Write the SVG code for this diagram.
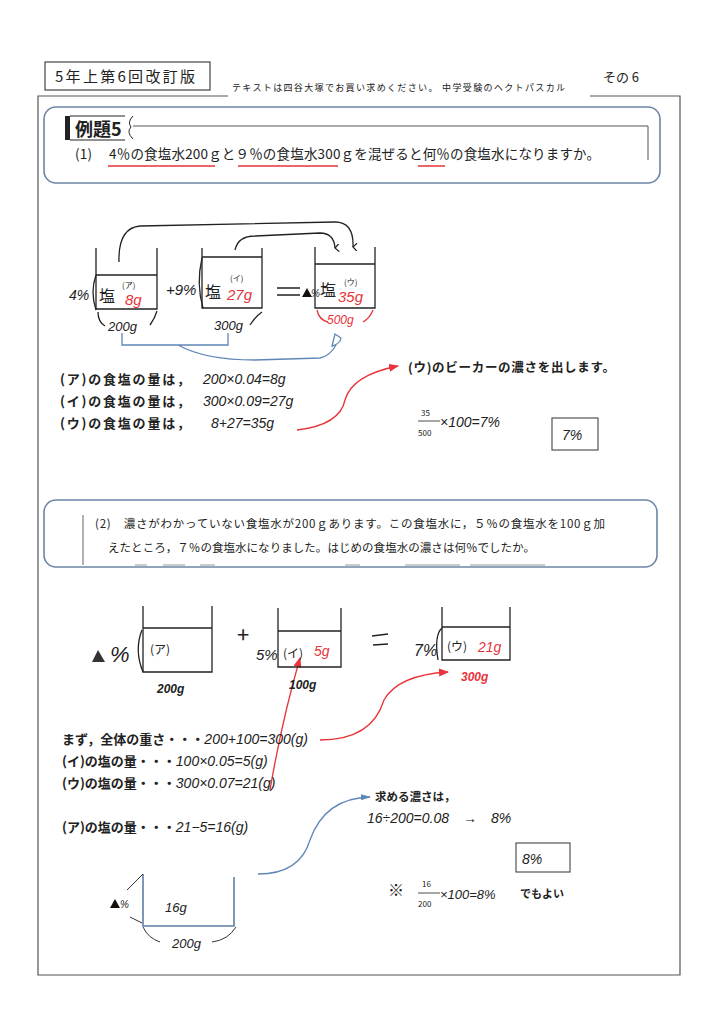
<svg xmlns="http://www.w3.org/2000/svg" width="724" height="1024" viewBox="0 0 724 1024">
<defs>
<style>
.jp{font-family:"Noto Sans CJK JP","Noto Sans",sans-serif;fill:#222}
.hw{font-family:"Liberation Sans","Noto Sans CJK JP",sans-serif;font-style:italic;fill:#222}
.red{fill:#e8333a}
.ln{fill:none;stroke:#222;stroke-width:1.3}
.rb{fill:none;stroke:#6c85a6;stroke-width:1.6}
.rl{fill:none;stroke:#e8333a;stroke-width:1.3}
.bl{fill:none;stroke:#5f86b8;stroke-width:1.3}
</style>
<marker id="ah" markerWidth="8" markerHeight="8" refX="4" refY="7" orient="auto-start-reverse" markerUnits="userSpaceOnUse"><path d="M0,3 L4,7 L8,3" fill="none" stroke="#222" stroke-width="1.2"/></marker>
<marker id="ar" markerWidth="10" markerHeight="8" refX="9" refY="4" orient="auto" markerUnits="userSpaceOnUse"><path d="M0,0 L10,4 L0,8 z" fill="#e8333a"/></marker>
<marker id="ab" markerWidth="10" markerHeight="8" refX="9" refY="4" orient="auto" markerUnits="userSpaceOnUse"><path d="M0,1 L10,4 L0,7 z" fill="#5f86b8"/></marker>
</defs>
<rect width="724" height="1024" fill="#fff"/>

<g id="header">
<rect x="45" y="62" width="165" height="28" fill="none" stroke="#444" stroke-width="1.2"/>
<text class="jp" x="55" y="82" font-size="15" textLength="140" lengthAdjust="spacing">5年上第6回改訂版</text>
<text class="jp" x="232" y="91" font-size="9" textLength="333" lengthAdjust="spacing">テキストは四谷大塚でお買い求めください。 中学受験のヘクトパスカル</text>
<text class="jp" x="603" y="82" font-size="13" textLength="36" lengthAdjust="spacing">その 6</text>
</g>

<g id="frame" fill="none" stroke="#555" stroke-width="1.2">
<path d="M228,96 L38,96 L38,975 L680,975 L680,96 L590,96"/>
</g>

<g id="problem1">
<rect x="44" y="107" width="616" height="76" rx="12" class="rb"/>
<rect x="65" y="116" width="5" height="24" fill="#222"/>
<path d="M70,116 H125 M70,140 H125" stroke="#222" stroke-width="1"/>
<text class="jp" x="75" y="136" font-size="18" font-weight="bold">例題5</text>
<path d="M133,116 Q127,122 131,127 Q126,132 133,139" fill="none" stroke="#222" stroke-width="1"/>
<path d="M133,126 H648 V160" fill="none" stroke="#555" stroke-width="1"/>
<text class="jp" x="75" y="159" font-size="13.5" textLength="525" lengthAdjust="spacing">(1)　 4％の食塩水200ｇと９％の食塩水300ｇを混ぜると何％の食塩水になりますか。</text>
<path d="M108,166 H215 M238,166 H338 M418,166 H445" stroke="#e8333a" stroke-width="1.5" fill="none"/>
</g>

<g id="beakerA1">
<path class="ln" d="M96,248 V309 H157 V248 M96,275 H157"/>
<path class="ln" d="M96,275 Q90,292 96,310" stroke-width="1"/>
<text class="hw" x="69" y="300" font-size="14">4%</text>
<text class="jp" x="99" y="302" font-size="16">塩</text>
<text class="jp" x="122" y="288" font-size="8">(ア)</text>
<text class="hw red" x="125" y="305" font-size="15">8g</text>
<path class="ln" d="M98,312 Q98,322 105,326 M150,325 Q155,318 157,311" stroke-width="1"/>
<text class="hw" x="108" y="331" font-size="13">200g</text>
</g>

<text class="hw" x="166" y="295" font-size="15">+9%</text>

<g id="beakerB1">
<path class="ln" d="M202,248 V308 H262 V248 M202,257 H262"/>
<path class="ln" d="M202,258 Q196,284 203,308" stroke-width="1"/>
<text class="jp" x="205" y="298" font-size="16">塩</text>
<text class="jp" x="230" y="281" font-size="8">(イ)</text>
<text class="hw red" x="227" y="300" font-size="15">27g</text>
<path class="ln" d="M250,325 Q256,316 262,312" stroke-width="1"/>
<text class="hw" x="214" y="330" font-size="13">300g</text>
</g>

<g id="eq1">
<path d="M277,288 H300 M277,295 H300" stroke="#222" stroke-width="1.3"/>
<path d="M302,297 L307,288 L312,297 z" fill="#111"/>
<text class="hw" x="311" y="297" font-size="10">%</text>
</g>

<g id="beakerC1">
<path class="ln" d="M315,247 V308 H375 V247 M315,264 H375"/>
<text class="jp" x="320" y="296" font-size="16">塩</text>
<text class="jp" x="344" y="285" font-size="8">(ウ)</text>
<text class="hw red" x="338" y="302" font-size="15">35g</text>
<path class="rl" d="M317,310 Q319,320 328,322 M363,322 Q370,318 373,310" stroke-width="1"/>
<text class="hw red" x="327" y="324" font-size="12">500g</text>
</g>

<g id="connectors">
<path class="ln" d="M119,262 Q118,228 140,226 L335,222 Q354,222 353,247" marker-end="url(#ah)"/>
<path class="ln" d="M235,250 Q238,236 255,236 L320,233 Q334,233 335,248" marker-end="url(#ah)"/>
<path class="bl" d="M122,333 V345 H228 V333 M178,345 Q205,360 255,360 L320,358 Q330,356 336,345"/>
<path class="bl" d="M332,346 L335,334 L341,338 Q340,344 332,346 z"/>
<path class="rl" d="M297,430 Q340,425 345,400 Q352,375 398,366" marker-end="url(#ar)"/>
<path class="rl" d="M270,790 Q282,720 300,658" marker-end="url(#ar)"/>
<path class="rl" d="M320,740 Q372,740 384,700 Q398,675 448,672" marker-end="url(#ar)"/>
<path class="bl" d="M258,874 Q300,874 310,840 Q325,798 370,797" marker-end="url(#ab)"/>
</g>

<g id="calc1" class="jp" font-size="13" font-weight="bold">
<text x="60" y="384" textLength="130" lengthAdjust="spacing">(ア)の食塩の量は，</text>
<text x="60" y="406" textLength="130" lengthAdjust="spacing">(イ)の食塩の量は，</text>
<text x="60" y="428" textLength="130" lengthAdjust="spacing">(ウ)の食塩の量は，</text>
<text class="hw" font-weight="normal" font-size="14" x="203" y="384">200×0.04=8g</text>
<text class="hw" font-weight="normal" font-size="14" x="203" y="406">300×0.09=27g</text>
<text class="hw" font-weight="normal" font-size="14" x="211" y="428">8+27=35g</text>
</g>

<g id="result1">
<text class="jp" x="408" y="372" font-size="12.5" font-weight="bold" textLength="207" lengthAdjust="spacing">(ウ)のビーカーの濃さを出します。</text>
<text class="jp" x="421" y="416" font-size="8">35</text>
<path d="M418,421 H440" stroke="#222" stroke-width="0.8"/>
<text class="jp" x="418" y="436" font-size="8">500</text>
<text class="hw" x="440" y="427" font-size="14">×100=7%</text>
<rect x="552" y="418" width="46" height="32" fill="none" stroke="#444" stroke-width="1.1"/>
<text class="hw" x="562" y="440" font-size="14">7%</text>
</g>

<g id="problem2">
<rect x="44" y="500" width="613" height="67" rx="12" class="rb"/>
<path d="M83,515 V565" stroke="#666" stroke-width="1"/>
<text class="jp" x="95" y="528" font-size="11.5" textLength="510" lengthAdjust="spacing">(2)　濃さがわかっていない食塩水が200ｇあります。この食塩水に，５％の食塩水を100ｇ加</text>
<text class="jp" x="108" y="552" font-size="11.5" textLength="427" lengthAdjust="spacing">えたところ，７％の食塩水になりました。はじめの食塩水の濃さは何％でしたか。</text>
<path d="M135,565 H147 M163,565 H185 M200,565 H215 M345,565 H360 M405,565 H460 M470,565 H545" stroke="#999" stroke-width="1.2"/>
</g>

<g id="beakerA2">
<path class="ln" d="M143,606 V672 H212 V606 M143,628 H212" stroke-width="1.6"/>
<path class="ln" d="M142,630 Q134,650 143,672" stroke-width="1"/>
<path d="M92,662 L98,650 L105,662 z" fill="#333"/>
<text class="hw" x="110" y="662" font-size="22">%</text>
<text class="jp" x="150" y="654" font-size="12">(ア)</text>
<text class="hw" x="157" y="693" font-size="12" font-weight="bold">200g</text>
</g>

<text class="jp" x="237" y="643" font-size="22">+</text>

<g id="beakerB2">
<path class="ln" d="M278,608 V667 H341 V608 M278,631 H341" stroke-width="1.6"/>
<text class="hw" x="256" y="660" font-size="15">5%</text>
<text class="jp" x="283" y="658" font-size="12">(イ)</text>
<text class="hw red" x="314" y="656" font-size="14">5g</text>
<text class="hw" x="289" y="689" font-size="12" font-weight="bold">100g</text>
</g>

<path d="M372,636 L388,634 M373,645 L388,644" stroke="#222" stroke-width="1.5"/>

<g id="beakerC2">
<path class="ln" d="M442,607 V660 H510 V607 M442,627 H510" stroke-width="1.6"/>
<path class="ln" d="M442,628 Q434,635 438,660" stroke-width="1"/>
<text class="hw" x="414" y="656" font-size="16">7%</text>
<text class="jp" x="447" y="651" font-size="12">(ウ)</text>
<text class="hw red" x="478" y="652" font-size="14">21g</text>
<text class="hw red" x="461" y="681" font-size="12" font-weight="bold">300g</text>
</g>

<g id="calc2" class="jp" font-size="13" font-weight="bold">
<text x="62" y="744">まず，全体の重さ・・・<tspan class="hw" font-weight="normal" font-size="14">200+100=300(g)</tspan></text>
<text x="62" y="766">(イ)の塩の量・・・<tspan class="hw" font-weight="normal" font-size="14">100×0.05=5(g)</tspan></text>
<text x="62" y="788">(ウ)の塩の量・・・<tspan class="hw" font-weight="normal" font-size="14">300×0.07=21(g)</tspan></text>
<text x="62" y="832">(ア)の塩の量・・・<tspan class="hw" font-weight="normal" font-size="14">21−5=16(g)</tspan></text>
</g>

<g id="result2">
<text class="jp" x="375" y="801" font-size="11.5" font-weight="bold">求める濃さは，</text>
<text class="hw" x="367" y="823" font-size="14">16÷200=0.08　→　8%</text>
<rect x="516" y="843" width="54" height="29" fill="none" stroke="#444" stroke-width="1.1"/>
<text class="hw" x="522" y="864" font-size="14">8%</text>
<text class="jp" x="388" y="896" font-size="16">※</text>
<text class="jp" x="422" y="887" font-size="8">16</text>
<path d="M418,893 H440" stroke="#222" stroke-width="0.8"/>
<text class="jp" x="418" y="907" font-size="8">200</text>
<text class="hw" x="440" y="899" font-size="13">×100=8%</text>
<text class="jp" x="520" y="898" font-size="11" font-weight="bold">でもよい</text>
</g>

<g id="beakerD">
<path d="M143,874 V926 H234 V877" fill="none" stroke="#5f7ea6" stroke-width="1.6"/>
<path d="M143,874 L127,890 M130,917 L142,923 M143,927 Q148,938 160,942 M236,927 Q228,940 212,942" fill="none" stroke="#333" stroke-width="1"/>
<path d="M110,908 L115,899 L120,908 z" fill="#111"/>
<text class="hw" x="120" y="908" font-size="10">%</text>
<text class="hw" x="165" y="912" font-size="13">16g</text>
<text class="hw" x="172" y="948" font-size="13">200g</text>
</g>
</svg>
